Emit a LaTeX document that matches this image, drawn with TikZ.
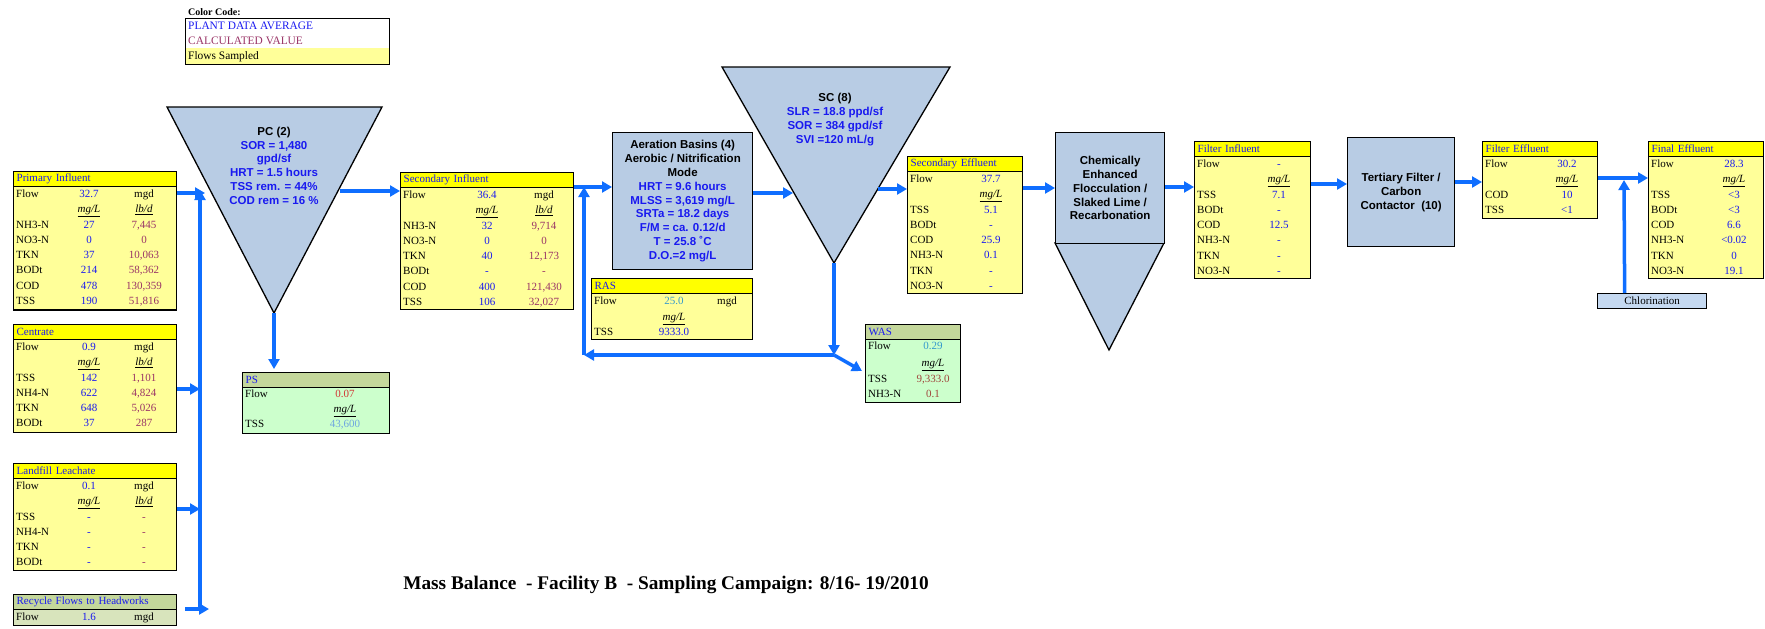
\documentclass[tikz,border=0pt]{standalone}
\usepackage{fontspec}
\setmainfont{Liberation Serif}
\newfontfamily\arialfont{Liberation Sans}
\usetikzlibrary{arrows.meta}

\definecolor{pdblue}{RGB}{25,25,240}
\definecolor{calcred}{RGB}{153,51,102}
\definecolor{headyel}{RGB}{255,255,0}
\definecolor{paleyel}{RGB}{255,255,153}
\definecolor{olive}{RGB}{196,215,155}
\definecolor{mint}{RGB}{204,255,204}
\definecolor{palegreen}{RGB}{216,228,188}
\definecolor{tankblue}{RGB}{184,204,228}
\definecolor{chlorblue}{RGB}{197,217,241}
\definecolor{flowblue}{RGB}{15,110,255}
\definecolor{tealval}{RGB}{51,153,204}
\definecolor{redval}{RGB}{210,50,50}
\definecolor{skyval}{RGB}{110,165,225}
\definecolor{brownval}{RGB}{160,70,60}

\tikzset{
  tframe/.style={draw, line width=1.3pt, inner sep=0pt, anchor=north west},
  thead/.style={draw, line width=1.3pt, inner xsep=3pt, inner ysep=0pt, minimum height=15pt,
    anchor=north west, align=left, text=pdblue, font=\fontsize{11}{12}\selectfont},
  txt/.style={inner sep=0pt, text height=7.5pt, text depth=2pt, font=\fontsize{11}{12}\selectfont},
  lab/.style={txt, anchor=west},
  val/.style={txt},
  pd/.style={text=pdblue},
  calc/.style={text=calcred},
  tank/.style={draw, line width=1.3pt, fill=tankblue},
  tanktxt/.style={inner sep=0pt, align=center, font=\arialfont\bfseries\fontsize{11.5}{13.8}\selectfont},
  procbox/.style={tank, tanktxt, anchor=north west},
  flow/.style={draw=flowblue, line width=3.5pt, -{Triangle[length=10pt,width=11pt]}},
}

% frame and header of a data table
\newcommand{\dtable}[8]{%
  \node[tframe, fill=#8, minimum width=#4pt, minimum height=#5pt] (#1) at (#2,#3) {};
  \pgfmathsetmacro\headw{#4-6}
  \node[thead, fill=#7, text width=\headw pt] (#1-h) at (#2,#3) {#6};
}

\newcommand{\threerows}[7]{%
  \node[lab] (#1-f) at ({#2+3},{#3+24}) {Flow};
  \node[val,pd] (#1-fv) at (#4,{#3+24}) {#6};
  \node[val] (#1-fu) at (#5,{#3+24}) {mgd};
  \node[val] (#1-u1) at (#4,{#3+39}) {\underline{\textit{mg/L}}};
  \node[val] (#1-u2) at (#5,{#3+39}) {\underline{\textit{lb/d}}};
  \foreach \lab/\va/\vb [count=\i] in {#7}{
    \node[lab] (#1-l\i) at ({#2+3},{#3+39+15.3*\i}) {\lab};
    \node[val,pd] (#1-a\i) at (#4,{#3+39+15.3*\i}) {\va};
    \node[val,calc] (#1-b\i) at (#5,{#3+39+15.3*\i}) {\vb};
  }
}

\newcommand{\tworows}[6]{%
  \node[lab] (#1-f) at ({#2+3},{#3+24}) {Flow};
  \node[val,pd] (#1-fv) at (#4,{#3+24}) {#5};
  \node[val] (#1-u1) at (#4,{#3+39}) {\underline{\textit{mg/L}}};
  \foreach \lab/\va [count=\i] in {#6}{
    \node[lab] (#1-l\i) at ({#2+3},{#3+39+15.3*\i}) {\lab};
    \node[val,pd] (#1-a\i) at (#4,{#3+39+15.3*\i}) {\va};
  }
}

\begin{document}
\begin{tikzpicture}[x=1pt, y=-1pt]
\useasboundingbox (0,0) rectangle (1765,629);

% colour code
\node[anchor=west, inner sep=0pt, font=\bfseries\fontsize{10}{12}\selectfont] (cc-t) at (188,12) {Color Code:};
\fill[paleyel] (185,48) rectangle (389,64);
\node[tframe, line width=1pt, minimum width=204pt, minimum height=46pt] (cc) at (185,18) {};
\node[lab, pd, font=\fontsize{11.4}{12}\selectfont] (cc-1) at (188,26.5) {PLANT DATA AVERAGE};
\node[lab, calc, font=\fontsize{11.4}{12}\selectfont] (cc-2) at (188,41.5) {CALCULATED VALUE};
\node[lab, font=\fontsize{11.4}{12}\selectfont] (cc-3) at (188,57) {Flows Sampled};

% influent tables
\dtable{priinf}{13}{171}{163}{138.4}{Primary Influent}{headyel}{paleyel}
\threerows{priinf}{13}{171}{89}{144}{32.7}{NH3-N/27/{7,445}, NO3-N/0/0, TKN/37/{10,063},
  BODt/214/{58,362}, COD/478/{130,359}, TSS/190/{51,816}}

\dtable{centrate}{13}{324}{163}{108}{Centrate}{headyel}{paleyel}
\threerows{centrate}{13}{324}{89}{144}{0.9}{TSS/142/{1,101}, NH4-N/622/{4,824},
  TKN/648/{5,026}, BODt/37/287}

\dtable{leachate}{13}{463}{163}{107}{Landfill Leachate}{headyel}{paleyel}
\threerows{leachate}{13}{463}{89}{144}{0.1}{TSS/-/-, NH4-N/-/-, TKN/-/-, BODt/-/-}

\dtable{recycle}{13}{594}{163}{31}{Recycle Flows to Headworks}{olive}{palegreen}
\node[lab] (recycle-f) at (16,618) {Flow};
\node[val,pd] (recycle-fv) at (89,618) {1.6};
\node[val] (recycle-fu) at (144,618) {mgd};

% primary clarifier
\coordinate (pc-a) at (167,107);
\coordinate (pc-b) at (382,107);
\coordinate (pc-c) at (274,313);
\draw[tank] (pc-a) -- (pc-b) -- (pc-c) -- cycle;
\node[tanktxt, anchor=north, text=pdblue] (pc) at (274,126.7)
  {\textcolor{black}{PC (2)}\\SOR = 1,480\\gpd/sf\\HRT = 1.5 hours\\TSS rem. = 44\%\\COD rem = 16 \%};

\dtable{ps}{242}{372}{147}{61}{PS}{olive}{mint}
\node[lab] (ps-f) at (245,395) {Flow};
\node[val, text=redval] (ps-fv) at (345,395) {0.07};
\node[val] (ps-u1) at (345,410) {\underline{\textit{mg/L}}};
\node[lab] (ps-l1) at (245,425) {TSS};
\node[val, text=skyval] (ps-a1) at (345,425) {43,600};

\dtable{secinf}{400}{172}{173}{137}{Secondary Influent}{headyel}{paleyel}
\threerows{secinf}{400}{172}{487}{544}{36.4}{NH3-N/32/{9,714}, NO3-N/0/0, TKN/40/{12,173},
  BODt/-/-, COD/400/{121,430}, TSS/106/{32,027}}

% aeration basins
\node[procbox, text=pdblue, minimum width=140pt, minimum height=137pt] (aer) at (612,132)
  {\textcolor{black}{Aeration Basins (4)}\\\textcolor{black}{Aerobic / Nitrification}\\\textcolor{black}{Mode}\\
   HRT = 9.6 hours\\MLSS = 3,619 mg/L\\SRTa = 18.2 days\\F/M = ca. 0.12/d\\T = 25.8 ˚C\\D.O.=2 mg/L};

\dtable{ras}{591}{278}{161}{61}{RAS}{headyel}{paleyel}
\node[lab] (ras-f) at (594,302) {Flow};
\node[val, text=tealval] (ras-fv) at (674,302) {25.0};
\node[val] (ras-fu) at (727,302) {mgd};
\node[val] (ras-u1) at (674,318) {\underline{\textit{mg/L}}};
\node[lab] (ras-l1) at (594,333) {TSS};
\node[val,pd] (ras-a1) at (674,333) {9333.0};

% secondary clarifier
\coordinate (sc-a) at (722,67);
\coordinate (sc-b) at (950,67);
\coordinate (sc-c) at (834,263);
\draw[tank] (sc-a) -- (sc-b) -- (sc-c) -- cycle;
\node[tanktxt, anchor=north, text=pdblue, font=\arialfont\bfseries\fontsize{11.5}{14}\selectfont] (sc) at (835,92.7)
  {\textcolor{black}{SC (8)}\\SLR = 18.8 ppd/sf\\SOR = 384 gpd/sf\\SVI =120 mL/g};

\dtable{was}{865}{324}{95}{78}{WAS}{olive}{mint}
\node[lab] (was-f) at (868,347) {Flow};
\node[val, text=tealval] (was-fv) at (933,347) {0.29};
\node[val] (was-u1) at (933,364) {\underline{\textit{mg/L}}};
\node[lab] (was-l1) at (868,380) {TSS};
\node[val, text=brownval] (was-a1) at (933,380) {9,333.0};
\node[lab] (was-l2) at (868,395) {NH3-N};
\node[val, text=brownval] (was-a2) at (933,395) {0.1};

\dtable{seceff}{907}{156}{115}{137}{Secondary Effluent}{headyel}{paleyel}
\tworows{seceff}{907}{156}{991}{37.7}{TSS/5.1, BODt/-, COD/25.9, NH3-N/0.1, TKN/-, NO3-N/-}

% chemically enhanced flocculation
\coordinate (cef-c) at (1109,350);
\draw[tank] (1055,243) -- (1164,243) -- (cef-c) -- cycle;
\node[procbox, minimum width=109pt, minimum height=111pt] (cef) at (1055,132)
  {Chemically\\Enhanced\\Flocculation /\\Slaked Lime /\\Recarbonation};

\dtable{filtinf}{1194}{141}{116}{137}{Filter Influent}{headyel}{paleyel}
\tworows{filtinf}{1194}{141}{1279}{-}{TSS/7.1, BODt/-, COD/12.5, NH3-N/-, TKN/-, NO3-N/-}

\node[procbox, minimum width=107pt, minimum height=109pt, font=\arialfont\bfseries\fontsize{11.5}{14}\selectfont] (tert) at (1347,137)
  {Tertiary Filter /\\Carbon\\Contactor\ \ (10)};

\dtable{filteff}{1482}{141}{115}{77}{Filter Effluent}{headyel}{paleyel}
\tworows{filteff}{1482}{141}{1567}{30.2}{COD/10, TSS/<1}

\dtable{fineff}{1648}{141}{115}{137}{Final Effluent}{headyel}{paleyel}
\tworows{fineff}{1648}{141}{1734}{28.3}{TSS/<3, BODt/<3, COD/6.6, NH3-N/<0.02, TKN/0, NO3-N/19.1}

\node[tframe, fill=chlorblue, minimum width=109pt, minimum height=15pt, font=\fontsize{11}{12}\selectfont] (chlor) at (1597,293) {Chlorination};

% flows
\coordinate (col-t) at (200,190);
\coordinate (col-b) at (200,609);
\coordinate (col-c) at (200,389);
\coordinate (col-l) at (200,509);
\coordinate (pc-in) at (205,193);
\coordinate (rec-a) at (185,609);
\coordinate (rec-b) at (209,609);
\coordinate (ps-in) at (274,369);
\coordinate (pc-out) at (340,191);
\coordinate (sc-in) at (793,193);
\coordinate (sc-j) at (834,355);
\coordinate (sc-out) at (878,189);
\coordinate (ras-j) at (584,355);
\coordinate (ras-t) at (584,187);
\coordinate (was-in) at (862,371);
\coordinate (cl-t) at (1624,180);

\draw[flow] ([yshift=-22pt]priinf.north east) -- (pc-in);
\draw[flow] (col-b) -- (col-t);
\draw[flow] ([yshift=-65pt]centrate.north east) -- (col-c);
\draw[flow] ([yshift=-46pt]leachate.north east) -- (col-l);
\draw[flow] (rec-a) -- (rec-b);
\draw[flow] (pc-c) -- (ps-in);
\draw[flow] (pc-out) -- ([yshift=-19pt]secinf.north west);
\draw[flow] ([yshift=-15pt]secinf.north east) -- ([yshift=-55pt]aer.north west);
\draw[flow] ([yshift=-61pt]aer.north east) -- (sc-in);
\draw[flow] (sc-c) -- (sc-j);
\draw[flow] (sc-j) -- (ras-j);
\draw[flow] (ras-j) -- (ras-t);
\draw[flow] (sc-j) -- (was-in);
\draw[flow] (sc-out) -- ([yshift=-33pt]seceff.north west);
\draw[flow] ([yshift=-32pt]seceff.north east) -- ([yshift=-56pt]cef.north west);
\draw[flow] ([yshift=-55pt]cef.north east) -- ([yshift=-46pt]filtinf.north west);
\draw[flow] ([yshift=-43pt]filtinf.north east) -- ([yshift=-47pt]tert.north west);
\draw[flow] ([yshift=-45pt]tert.north east) -- ([yshift=-41pt]filteff.north west);
\draw[flow] ([yshift=-37pt]filteff.north east) -- ([yshift=-37pt]fineff.north west);
\draw[flow] ([xshift=-27.5pt]chlor.north) -- (cl-t);

\node[font=\bfseries\fontsize{19.3}{23}\selectfont] (title) at (666,585)
  {Mass Balance\ \ - Facility B\ \ - Sampling Campaign: 8/16- 19/2010};
\end{tikzpicture}
\end{document}
